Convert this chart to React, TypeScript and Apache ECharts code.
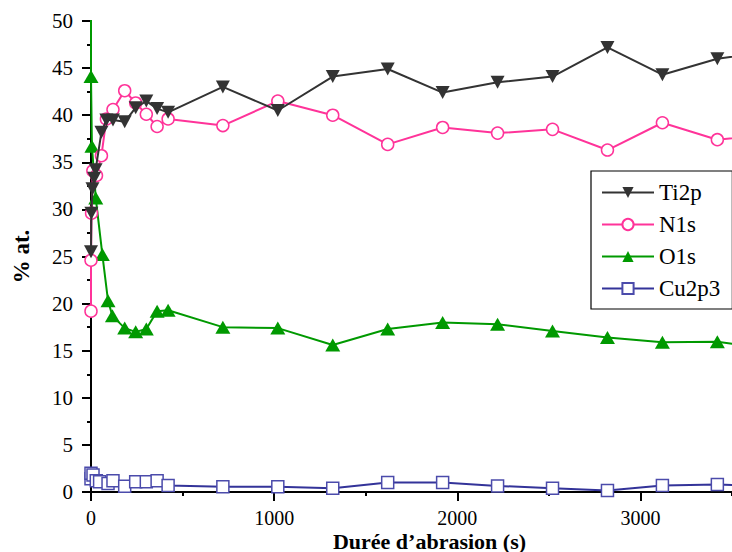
import React, { useEffect, useRef } from "react";
import * as echarts from "echarts";

// ---- Data ----
const seriesNames = ["Ti2p", "N1s", "O1s", "Cu2p3"];

const ti2pTime = [0, 2, 8, 17, 25, 57, 84, 120, 184, 244, 302, 361, 421, 720, 1020, 1320, 1620, 1920, 2220, 2520, 2820, 3120, 3420, 3720];
const ti2pValues = [25.5, 29.6, 32.2, 33.3, 34.2, 38.2, 39.5, 39.5, 39.3, 40.8, 41.5, 40.7, 40.3, 43.0, 40.5, 44.1, 44.9, 42.4, 43.5, 44.1, 47.2, 44.3, 46.0, 46.8];

const n1sTime = [0, 0, 3, 10, 30, 57, 84, 120, 184, 244, 302, 361, 421, 720, 1020, 1320, 1620, 1920, 2220, 2520, 2820, 3120, 3420, 3720];
const n1sValues = [19.2, 24.6, 29.6, 34.1, 33.6, 35.7, 39.6, 40.6, 42.6, 41.3, 40.1, 38.8, 39.6, 38.9, 41.5, 40.0, 36.9, 38.7, 38.1, 38.5, 36.3, 39.2, 37.4, 38.0];

const o1sTime = [0, 0, 5, 26, 62, 93, 117, 184, 244, 302, 361, 421, 720, 1020, 1320, 1620, 1920, 2220, 2520, 2820, 3120, 3420, 3720];
const o1sValues = [56, 44.1, 36.7, 31.2, 25.2, 20.3, 18.7, 17.4, 17.0, 17.3, 19.2, 19.3, 17.5, 17.4, 15.6, 17.3, 18.0, 17.8, 17.1, 16.4, 15.9, 15.95, 15.2];

const cuTime = [0, 0, 11, 29, 47, 93, 120, 184, 244, 302, 361, 421, 720, 1020, 1320, 1620, 1920, 2220, 2520, 2820, 3120, 3420, 3720];
const cuValues = [1.4, 2.0, 1.8, 1.2, 1.1, 0.9, 1.2, 0.6, 1.1, 1.1, 1.2, 0.7, 0.55, 0.55, 0.4, 1.0, 1.0, 0.65, 0.4, 0.15, 0.7, 0.8, 0.6];

const xTickLabels = [0, 1000, 2000, 3000];
const xTitle = "Durée d’abrasion (s)";
const yTitle = "% at.";

const zip = (t: number[], v: number[]) => t.map((x, i) => [x, v[i]]);

const FONT = "'Liberation Serif', 'Times New Roman', serif";

export default function App() {
  const ref = useRef<HTMLDivElement>(null);

  useEffect(() => {
    if (!ref.current) return;
    const chart = echarts.init(ref.current, undefined, { renderer: "svg" });

    const lineBase = {
      type: "line" as const,
      xAxisIndex: 0,
      yAxisIndex: 0,
      clip: true,
      showSymbol: true,
      showAllSymbol: true,
    };

    const option: any = {
      animation: false,
      textStyle: { fontFamily: FONT },
      grid: [
        { left: 91, right: 0, top: 21, bottom: 60, containLabel: false, outerBoundsMode: "none" },
        { left: 91, width: 549.4, top: 21, bottom: 60, containLabel: false, outerBoundsMode: "none" },
      ],
      legend: {
        orient: "vertical",
        left: 591,
        top: 171,
        itemWidth: 52,
        itemHeight: 14,
        itemGap: 9,
        padding: [10, 12, 9, 10],
        borderColor: "#000",
        borderWidth: 1.2,
        backgroundColor: "#fff",
        data: seriesNames,
        textStyle: { fontFamily: FONT, fontSize: 23, color: "#000", lineHeight: 22 },
      },
      xAxis: [
        {
          type: "value",
          gridIndex: 0,
          min: 0,
          max: 3500,
          interval: 500,
          name: xTitle,
          nameLocation: "middle",
          nameGap: 39,
          nameTextStyle: {
            fontFamily: FONT,
            fontSize: 22,
            fontWeight: "bold",
            color: "#000",
            lineHeight: 20,
            padding: [0, 0, 0, 36],
          },
          axisLine: { show: true, onZero: false, lineStyle: { color: "#000", width: 2 } },
          axisTick: { show: true, inside: false, length: 4, lineStyle: { color: "#000", width: 2 } },
          axisLabel: { show: false },
          splitLine: { show: false },
        },
        {
          type: "value",
          gridIndex: 1,
          min: 0,
          max: 3000,
          interval: 1000,
          axisLine: { show: false, onZero: false },
          axisTick: { show: true, inside: false, length: 9, lineStyle: { color: "#000", width: 2 } },
          axisLabel: {
            show: true,
            margin: 17,
            fontFamily: FONT,
            fontSize: 20,
            lineHeight: 18,
            color: "#000",
            formatter: (v: number) => (xTickLabels.indexOf(v) >= 0 ? String(v) : ""),
          },
          splitLine: { show: false },
        },
      ],
      yAxis: [
        {
          type: "value",
          gridIndex: 0,
          min: 0,
          max: 50,
          interval: 5,
          name: yTitle,
          nameLocation: "middle",
          nameGap: 58,
          nameRotate: 90,
          nameTextStyle: { fontFamily: FONT, fontSize: 23, fontWeight: "bold", color: "#000" },
          axisLine: { show: true, onZero: false, lineStyle: { color: "#000", width: 2 } },
          axisTick: { show: true, inside: false, length: 9, lineStyle: { color: "#000", width: 2 } },
          minorTick: { show: true, splitNumber: 2, length: 4, lineStyle: { color: "#000", width: 2 } },
          axisLabel: { margin: 18, fontFamily: FONT, fontSize: 21, color: "#000" },
          splitLine: { show: false },
        },
        {
          type: "value",
          gridIndex: 1,
          min: 0,
          max: 50,
          show: false,
        },
      ],
      series: [
        {
          ...lineBase,
          name: "Ti2p",
          data: zip(ti2pTime, ti2pValues),
          symbol: "triangle",
          symbolRotate: 180,
          symbolSize: [14, 13],
          lineStyle: { color: "#333333", width: 2 },
          itemStyle: { color: "#333333", borderWidth: 0 },
          z: 4,
        },
        {
          ...lineBase,
          name: "N1s",
          data: zip(n1sTime, n1sValues),
          symbol: "circle",
          symbolSize: 12,
          lineStyle: { color: "#ff3399", width: 2 },
          itemStyle: { color: "#ffffff", borderColor: "#ff3399", borderWidth: 1.5 },
          z: 3,
        },
        {
          ...lineBase,
          name: "O1s",
          data: zip(o1sTime, o1sValues),
          symbol: "triangle",
          symbolSize: [15, 13],
          lineStyle: { color: "#009900", width: 2 },
          itemStyle: { color: "#009900", borderWidth: 0 },
          z: 2,
        },
        {
          ...lineBase,
          name: "Cu2p3",
          data: zip(cuTime, cuValues),
          symbol: "rect",
          symbolSize: 12,
          lineStyle: { color: "#333399", width: 2 },
          itemStyle: { color: "#ffffff", borderColor: "#4b4bab", borderWidth: 1.5 },
          z: 1,
        },
      ],
    };

    chart.setOption(option);
    return () => {
      chart.dispose();
    };
  }, []);

  return (
    <div
      ref={ref}
      style={{ position: "fixed", left: 0, top: 0, width: 732, height: 552, background: "#fff" }}
    />
  );
}
